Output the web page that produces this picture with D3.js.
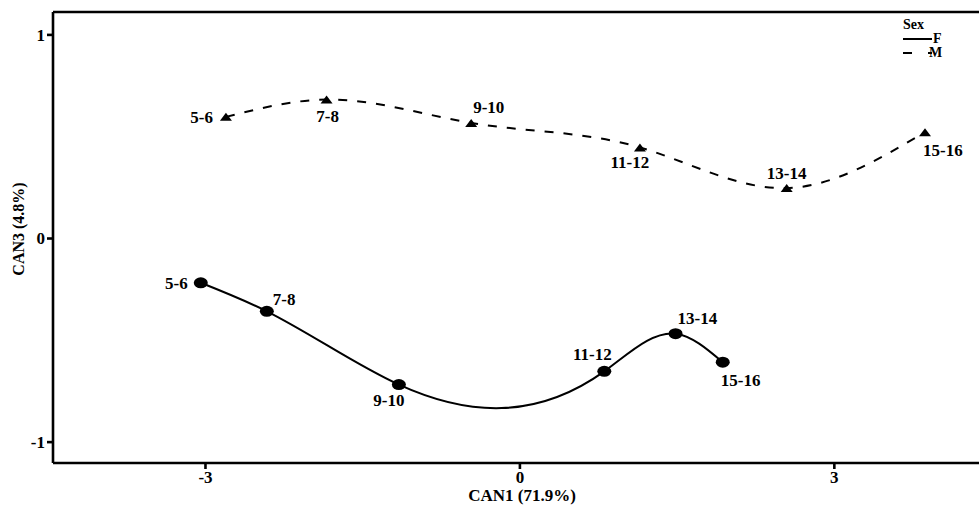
<!DOCTYPE html>
<html>
<head>
<meta charset="utf-8">
<script src="https://cdn.jsdelivr.net/npm/d3@7"></script>
<style>
  body { margin: 0; background: #fff; }
  svg { display: block; font-family: "Liberation Serif", "Times New Roman", serif; font-weight: bold; }
</style>
</head>
<body>
<svg width="979" height="505"></svg>
<script>
// age groups
const ages = ['5-6', '7-8', '9-10', '11-12', '13-14', '15-16']

// canonical scores, females
const femaleCan1 = [-3.04, -2.41, -1.15, 0.81, 1.49, 1.94]
const femaleCan3 = [-0.22, -0.36, -0.72, -0.655, -0.47, -0.61]

// canonical scores, males
const maleCan1 = [-2.80, -1.84, -0.46, 1.15, 2.55, 3.87]
const maleCan3 = [0.595, 0.68, 0.565, 0.445, 0.245, 0.52]

const xTicks = [-3, 0, 3]
const yTicks = [-1, 0, 1]

// where each label sits around its point
const femaleLabelPos = ['left', 'upRight', 'downLeft', 'upLeft', 'upRightNear', 'downRight']
const maleLabelPos = ['left', 'down', 'upRightNear', 'downLeft', 'up', 'downRight']

const svg = d3.select('svg')
const m = { left: 53, top: 12, bottom: 463 }

const x = d3.scaleLinear().domain([-4.45, 4.385]).range([m.left, 979])
const y = d3.scaleLinear().domain([-1.105, 1.11]).range([m.bottom, m.top])

// natural cubic spline of y as a function of x (like SAS interpol=spline)
function curveSplineX (context) {
  let xs, ys
  return {
    areaStart () {},
    areaEnd () {},
    lineStart () { xs = []; ys = [] },
    point (px, py) { xs.push(+px); ys.push(+py) },
    lineEnd () {
      const n = xs.length
      if (!n) return
      context.moveTo(xs[0], ys[0])
      if (n === 2) { context.lineTo(xs[1], ys[1]); return }
      const h = d3.range(n - 1).map(i => xs[i + 1] - xs[i])
      const a = [], b = [], c = [], r = []
      for (let i = 1; i < n - 1; i++) {
        a.push(h[i - 1]); b.push(2 * (h[i - 1] + h[i])); c.push(h[i])
        r.push(6 * ((ys[i + 1] - ys[i]) / h[i] - (ys[i] - ys[i - 1]) / h[i - 1]))
      }
      const k = b.length
      for (let i = 1; i < k; i++) {
        const w = a[i] / b[i - 1]
        b[i] -= w * c[i - 1]; r[i] -= w * r[i - 1]
      }
      const M = new Array(n).fill(0)
      M[k] = r[k - 1] / b[k - 1]
      for (let i = k - 2; i >= 0; i--) M[i + 1] = (r[i] - c[i] * M[i + 2]) / b[i]
      for (let i = 0; i < n - 1; i++) {
        const hi = h[i], s = (ys[i + 1] - ys[i]) / hi
        const d0 = s - hi * (2 * M[i] + M[i + 1]) / 6
        const d1 = s + hi * (M[i] + 2 * M[i + 1]) / 6
        context.bezierCurveTo(xs[i] + hi / 3, ys[i] + d0 * hi / 3,
          xs[i + 1] - hi / 3, ys[i + 1] - d1 * hi / 3, xs[i + 1], ys[i + 1])
      }
    }
  }
}

// axes
const fmt = d => String(d)
const xAxis = svg.append('g')
  .attr('transform', `translate(0,${m.bottom})`)
  .call(d3.axisBottom(x).tickValues(xTicks).tickSize(6).tickPadding(2).tickFormat(fmt))
const yAxis = svg.append('g')
  .attr('transform', `translate(${m.left},0)`)
  .call(d3.axisLeft(y).tickValues(yTicks).tickSize(6).tickPadding(2).tickFormat(fmt))

;[xAxis, yAxis].forEach(g => {
  g.select('.domain').attr('stroke-width', 2.6)
  g.selectAll('.tick line').attr('stroke-width', 2.6)
  g.selectAll('.tick text').attr('font-size', 17).attr('font-family', 'Liberation Serif').attr('font-weight', 'bold').attr('fill', '#000')
})
xAxis.select('.domain').attr('d', `M${m.left},0H979`)
yAxis.select('.domain').attr('d', `M0,${m.bottom}V${m.top}`)
xAxis.selectAll('.tick text').attr('dy', '0.71em')
yAxis.selectAll('.tick text').attr('dy', '0.35em')

// top frame line
svg.append('line')
  .attr('x1', m.left).attr('x2', 979)
  .attr('y1', m.top).attr('y2', m.top)
  .attr('stroke', '#000').attr('stroke-width', 2.6)

// axis titles
svg.append('text')
  .attr('x', 522).attr('y', 501)
  .attr('text-anchor', 'middle').attr('font-size', 17)
  .text('CAN1 (71.9%)')
svg.append('text')
  .attr('transform', `translate(24,229) rotate(-90)`)
  .attr('text-anchor', 'middle').attr('font-size', 16)
  .text('CAN3 (4.8%)')

const line = d3.line().x(d => x(d[0])).y(d => y(d[1])).curve(curveSplineX)

const female = d3.zip(femaleCan1, femaleCan3)
const male = d3.zip(maleCan1, maleCan3)

svg.append('path')
  .attr('d', line(female))
  .attr('fill', 'none').attr('stroke', '#000').attr('stroke-width', 2)
svg.append('path')
  .attr('d', line(male))
  .attr('fill', 'none').attr('stroke', '#000').attr('stroke-width', 2)
  .attr('stroke-dasharray', '9,10')

svg.append('g').selectAll('ellipse').data(female).join('ellipse')
  .attr('cx', d => x(d[0])).attr('cy', d => y(d[1]))
  .attr('rx', 7).attr('ry', 5.5).attr('fill', '#000')

svg.append('g').selectAll('path').data(male).join('path')
  .attr('transform', d => `translate(${x(d[0])},${y(d[1])})`)
  .attr('d', 'M-6,4L0,-4L6,4Z').attr('fill', '#000')

const place = {
  left: { anchor: 'end', dx: -13, dy: 6 },
  upRight: { anchor: 'start', dx: 6, dy: -6 },
  upRightNear: { anchor: 'start', dx: 2, dy: -10 },
  downLeft: { anchor: 'middle', dx: -10, dy: 21 },
  upLeft: { anchor: 'middle', dx: -12, dy: -11 },
  downRight: { anchor: 'start', dx: -2, dy: 24 },
  down: { anchor: 'middle', dx: 1, dy: 22 },
  up: { anchor: 'middle', dx: 0, dy: -9 }
}

function labels (pts, pos) {
  svg.append('g').selectAll('text').data(pts).join('text')
    .attr('x', (d, i) => x(d[0]) + place[pos[i]].dx)
    .attr('y', (d, i) => y(d[1]) + place[pos[i]].dy)
    .attr('text-anchor', (d, i) => place[pos[i]].anchor)
    .attr('font-size', 17)
    .text((d, i) => ages[i])
}
labels(female, femaleLabelPos)
labels(male, maleLabelPos)

// legend
const lg = svg.append('g').attr('font-size', 14)
lg.append('text').attr('x', 903).attr('y', 29).text('Sex')
lg.append('line').attr('x1', 903).attr('x2', 932).attr('y1', 39).attr('y2', 39)
  .attr('stroke', '#000').attr('stroke-width', 2)
lg.append('text').attr('x', 933).attr('y', 43).text('F')
lg.append('line').attr('x1', 903).attr('x2', 932).attr('y1', 53).attr('y2', 53)
  .attr('stroke', '#000').attr('stroke-width', 2).attr('stroke-dasharray', '9,16')
lg.append('text').attr('x', 929).attr('y', 57).text('M')
</script>
</body>
</html>
